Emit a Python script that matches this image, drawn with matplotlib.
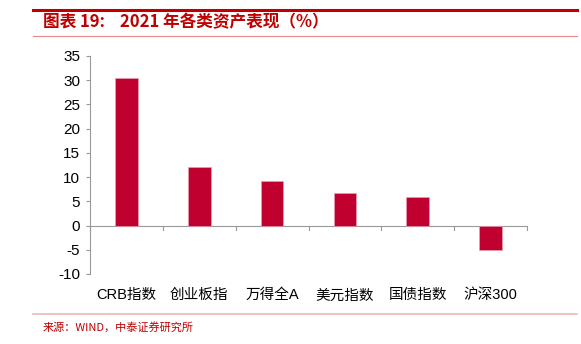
import matplotlib
matplotlib.use('Agg')
import matplotlib.pyplot as plt
from matplotlib.lines import Line2D

plt.rcParams['font.family'] = ['Noto Sans CJK SC', 'DejaVu Sans']

# data
categories = ['CRB指数', '创业板指', '万得全A', '美元指数', '国债指数', '沪深300']
returns = [30.4, 12.0, 9.2, 6.7, 5.9, -5.1]
yticks = [-10, -5, 0, 5, 10, 15, 20, 25, 30, 35]

fig = plt.figure(figsize=(5.81, 3.44), dpi=100)
ax = fig.add_axes([0.155, 0.2035, 0.752, 0.634])

x = list(range(len(categories)))
ax.bar(x, returns, width=0.31, color='#C0002F', edgecolor='#E8A0B0', linewidth=0.5, zorder=3)

ax.set_xlim(-0.5, len(categories) - 0.5)
ax.set_ylim(-10, 35)
ax.set_yticks(yticks)
ax.set_yticklabels([str(t) for t in yticks], fontsize=11, family=['Liberation Sans', 'DejaVu Sans'])

for s in ['top', 'right', 'bottom']:
    ax.spines[s].set_visible(False)
ax.spines['left'].set_color('#999999')
ax.spines['left'].set_linewidth(0.8)
ax.tick_params(axis='y', length=3, color='#999999', pad=4)

# x axis line at zero, ticks between categories
ax.axhline(0, color='#999999', linewidth=0.8, zorder=2)
ax.set_xticks([])
for b in [i + 0.5 for i in range(-1, len(categories))]:
    ax.plot([b, b], [0, -0.9], color='#999999', linewidth=0.8, clip_on=False)
for i, c in enumerate(categories):
    ax.text(i, -14.4, c, ha='center', va='center', fontsize=10.5, color='black',
            family=['Liberation Sans', 'Noto Sans CJK SC'])

# header and footer
fig.add_artist(Line2D([33 / 581, 577 / 581], [1 - 10 / 344, 1 - 10 / 344], color='#C00000', linewidth=2.2))
fig.add_artist(Line2D([33 / 581, 577 / 581], [1 - 36 / 344, 1 - 36 / 344], color='#E88888', linewidth=0.8))
fig.add_artist(Line2D([33 / 581, 577 / 581], [1 - 314 / 344, 1 - 314 / 344], color='#F0B8B8', linewidth=1.2))
fig.text(43 / 581, 1 - 22 / 344, '图表 19:    2021 年各类资产表现（%）', fontsize=12, fontweight='bold',
         color='#C00000', va='center', ha='left')
fig.text(43 / 581, 1 - 327 / 344, '来源：WIND，中泰证券研究所', fontsize=8, color='#C00000', va='center', ha='left')

fig.savefig('out.png', dpi=100)
